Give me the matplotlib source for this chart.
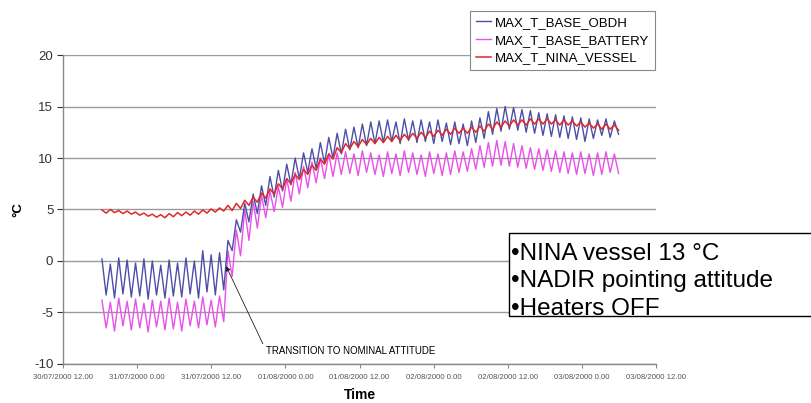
import matplotlib
matplotlib.use("Agg")
import matplotlib.pyplot as plt
from matplotlib.patches import Rectangle
import numpy as np

plt.rcParams['font.family'] = ['Liberation Sans', 'DejaVu Sans']
plt.rcParams['axes.unicode_minus'] = False

# sampling: one value every half orbit (hours from 30/07/2000 12:00)
t_start = 6.3
half_orbit = 0.68

obdh_peaks = [0.2, -0.3, 0.3, 0.1, -0.2, 0.2, 0.0, -0.4, 0.1, -0.2, 0.3, 0.0, 1.0, 0.6, 0.8,
              2.0, 4.0, 5.6, 6.5, 7.3, 8.2, 8.8, 9.4, 10.0, 10.5, 10.9, 11.5, 12.0, 12.4, 12.8,
              13.0, 13.3, 13.5, 13.6, 13.7, 13.5, 13.8, 13.6, 13.7, 13.5, 13.7, 13.4, 13.5, 13.3, 13.6,
              13.9, 14.5, 14.8, 15.0, 14.9, 14.7, 14.6, 14.4, 14.3, 14.2, 14.1, 14.0, 13.9, 13.8, 13.7,
              13.8, 13.6]
obdh_troughs = [-3.3, -3.6, -3.2, -3.5, -3.4, -3.7, -3.3, -3.6, -3.4, -3.5, -3.2, -3.6, -3.0, -3.3, -2.8,
                1.0, 2.8, 3.8, 4.6, 5.4, 6.2, 6.8, 7.4, 8.0, 8.6, 9.0, 9.5, 10.0, 10.4, 10.8,
                11.0, 11.2, 11.4, 11.5, 11.6, 11.4, 11.7, 11.5, 11.6, 11.4, 11.6, 11.3, 11.4, 11.2, 11.5,
                11.9, 12.3, 12.6, 12.8, 12.7, 12.5, 12.4, 12.2, 12.1, 12.0, 11.9, 11.8, 11.6, 11.9, 12.2,
                12.0, 12.3]

battery_peaks = [-3.8, -4.0, -3.6, -3.9, -3.7, -4.1, -3.8, -3.9, -3.6, -4.0, -3.7, -3.9, -3.5, -3.8, -3.4,
                 1.0, 3.0, 5.0, 5.8, 6.4, 6.8, 7.2, 8.0, 8.6, 9.2, 9.6, 10.0, 10.4, 10.5, 10.6,
                 10.4, 10.7, 10.5, 10.3, 10.6, 10.4, 10.7, 10.5, 10.3, 10.6, 10.4, 10.5, 10.7, 10.6, 10.9,
                 11.2, 11.5, 11.7, 11.6, 11.4, 11.2, 11.0, 10.9, 10.8, 10.7, 10.6, 10.5, 10.6, 10.4, 10.5,
                 10.6, 10.4]
battery_troughs = [-6.5, -6.8, -6.3, -6.7, -6.5, -6.9, -6.4, -6.7, -6.6, -6.8, -6.3, -6.5, -6.2, -6.4, -5.9,
                   -1.5, 0.5, 2.0, 3.2, 4.2, 4.8, 5.2, 5.8, 6.5, 7.1, 7.6, 8.0, 8.2, 8.4, 8.5,
                   8.3, 8.6, 8.4, 8.2, 8.5, 8.3, 8.6, 8.4, 8.2, 8.5, 8.3, 8.4, 8.6, 8.7, 8.9,
                   9.1, 9.2, 9.3, 9.2, 9.1, 9.0, 8.9, 8.8, 8.7, 8.6, 8.5, 8.4, 8.5, 8.3, 8.4,
                   8.6, 8.5]

vessel_peaks = [4.95, 5.0, 4.9, 4.85, 4.75, 4.65, 4.55, 4.5, 4.6, 4.7, 4.75, 4.85, 4.95, 5.05, 5.15,
                5.4, 5.6, 5.9, 6.2, 6.6, 7.0, 7.5, 8.0, 8.4, 8.9, 9.3, 9.9, 10.4, 11.0, 11.4,
                11.6, 11.8, 11.9, 12.0, 12.1, 12.2, 12.3, 12.4, 12.5, 12.6, 12.7, 12.8, 12.9, 12.9, 13.0,
                13.1, 13.3, 13.5, 13.6, 13.7, 13.7, 13.8, 13.8, 13.8, 13.7, 13.7, 13.6, 13.5, 13.4, 13.3,
                13.3, 13.2]
vessel_troughs = [4.65, 4.7, 4.6, 4.55, 4.45, 4.35, 4.25, 4.2, 4.3, 4.4, 4.45, 4.55, 4.65, 4.75, 4.85,
                  4.9, 5.1, 5.4, 5.7, 6.1, 6.5, 7.0, 7.5, 7.9, 8.4, 8.8, 9.4, 9.9, 10.5, 10.9,
                  11.1, 11.3, 11.4, 11.5, 11.6, 11.7, 11.8, 11.9, 12.0, 12.1, 12.2, 12.3, 12.4, 12.4, 12.5,
                  12.6, 12.8, 13.0, 13.1, 13.2, 13.2, 13.3, 13.3, 13.3, 13.2, 13.2, 13.1, 13.0, 12.9, 12.8,
                  12.8, 12.7]

tick_hours = [0, 12, 24, 36, 48, 60, 72, 84, 96]
tick_labels = ["30/07/2000 12.00", "31/07/2000 0.00", "31/07/2000 12.00", "01/08/2000 0.00",
               "01/08/2000 12.00", "02/08/2000 0.00", "02/08/2000 12.00", "03/08/2000 0.00",
               "03/08/2000 12.00"]
series_names = ["MAX_T_BASE_OBDH", "MAX_T_BASE_BATTERY", "MAX_T_NINA_VESSEL"]
notes = ["\u2022NINA vessel 13 \u00b0C", "\u2022NADIR pointing attitude", "\u2022Heaters OFF"]


def interleave(peaks, troughs):
    out = np.empty(2 * len(peaks))
    out[0::2] = peaks
    out[1::2] = troughs
    return out


n = 2 * len(obdh_peaks)
hours = t_start + half_orbit * np.arange(n)

fig = plt.figure(figsize=(8.12, 4.03), dpi=100, facecolor="white")
ax = fig.add_axes([0.0776, 0.0968, 0.7303, 0.7667])

ax.plot(hours, interleave(obdh_peaks, obdh_troughs), color="#4e4ea6", lw=1.0, label=series_names[0], zorder=3)
ax.plot(hours, interleave(battery_peaks, battery_troughs), color="#ea50ea", lw=1.0, label=series_names[1], zorder=2)
ax.plot(hours, interleave(vessel_peaks, vessel_troughs), color="#e02828", lw=1.1, label=series_names[2], zorder=4)

ax.set_xlim(0, 96)
ax.set_ylim(-10, 20)
ax.set_yticks([-10, -5, 0, 5, 10, 15, 20])
ax.set_xticks(tick_hours)
ax.set_xticklabels(tick_labels, fontsize=5.6, color="#555555")
ax.tick_params(axis="y", labelsize=9.5, colors="#333333", length=4, width=0.8, pad=3)
ax.tick_params(axis="x", length=3, width=0.8, colors="#888888", pad=4)
for lbl in ax.get_xticklabels():
    lbl.set_color("#555555")

ax.grid(axis="y", color="#9a9a9a", lw=1.0)
ax.set_axisbelow(True)
for s in ["top", "right"]:
    ax.spines[s].set_visible(False)
for s in ["left", "bottom"]:
    ax.spines[s].set_color("#888888")
    ax.spines[s].set_linewidth(1.0)

ax.set_xlabel("Time", fontsize=10, fontweight="bold", labelpad=5)
ax.set_ylabel("\u00b0C", fontsize=9.5, fontweight="bold", labelpad=7)

ax.annotate("TRANSITION TO NOMINAL ATTITUDE", xy=(26.4, -0.5), xytext=(32.8, -8.7),
            fontsize=7, ha="left", va="center",
            arrowprops=dict(arrowstyle="-|>", color="#222222", lw=0.6,
                            mutation_scale=7, shrinkA=0, shrinkB=0, relpos=(0, 0.6)))

leg = fig.legend(loc="upper left", bbox_to_anchor=(0.571, 0.988), fontsize=9.5,
                 frameon=True, fancybox=False, edgecolor="#888888", framealpha=1,
                 handlelength=1.2, labelspacing=0.42, borderpad=0.4, handletextpad=0.3)
leg.get_frame().set_linewidth(0.8)

fig.patches.append(Rectangle((509 / 812, 1 - 316 / 403), 0.45, 83 / 403,
                             transform=fig.transFigure, facecolor="white",
                             edgecolor="black", lw=1.0, zorder=5))
for i, line in enumerate(notes):
    fig.text(511 / 812, 1 - (254 + 27.5 * i) / 403, line, fontsize=17.5,
             ha="left", va="center", color="black", zorder=6)

fig.savefig("out.png", dpi=100, facecolor="white")
